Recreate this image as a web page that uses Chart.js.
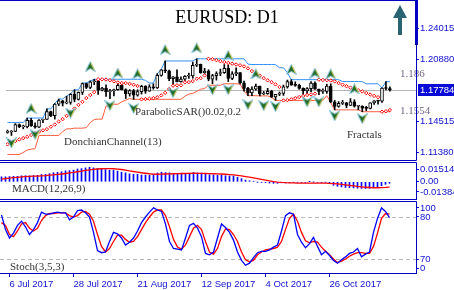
<!DOCTYPE html>
<html>
<head>
<meta charset="utf-8">
<title>EURUSD: D1</title>
<script src="https://cdn.jsdelivr.net/npm/chart.js@4.4.1/dist/chart.umd.min.js"></script>
<style>
  html, body { margin: 0; padding: 0; background: #fff; }
  #wrap { position: relative; width: 454px; height: 290px; overflow: hidden; background: #fff; }
  #wrap canvas { position: absolute; left: 0; }
</style>
</head>
<body>
<div id="wrap">
  <canvas id="mainChart" width="454" height="161" style="top:0px"></canvas>
  <canvas id="macdChart" width="454" height="38" style="top:162px"></canvas>
  <canvas id="stochChart" width="454" height="89" style="top:201px"></canvas>
</div>
<script>
// daily bars, 4 Jul 2017 .. 16 Nov 2017 (index 0..97)
const open = [1.1345,1.1348,1.1354,1.1423,1.1400,1.1400,1.1467,1.1412,1.1398,1.1470,
  1.1477,1.1556,1.1515,1.1632,1.1665,1.1641,1.1649,1.1731,1.1678,1.1751,
  1.1841,1.1801,1.1859,1.1869,1.1774,1.1794,1.1757,1.1769,1.1777,1.1822,
  1.1779,1.1734,1.1768,1.1722,1.1759,1.1813,1.1762,1.1806,1.1797,1.1923,
  1.1979,1.1970,1.1889,1.1910,1.1859,1.1886,1.1915,1.1918,1.2026,1.2036,
  1.1950,1.1966,1.1884,1.1921,1.1943,1.1951,1.1996,1.1892,1.1939,1.1951,
  1.1848,1.1792,1.1746,1.1784,1.1814,1.1734,1.1738,1.1761,1.1705,1.1732,
  1.1739,1.1807,1.1861,1.1823,1.1822,1.1792,1.1765,1.1789,1.1846,1.1784,
  1.1761,1.1761,1.1814,1.1654,1.1609,1.1639,1.1645,1.1619,1.1655,1.1610,
  1.1610,1.1590,1.1588,1.1645,1.1665,1.1662,1.1794,1.1790];
const high = [1.1368,1.1363,1.1433,1.1430,1.1418,1.1490,1.1488,1.1440,1.1475,1.1479,
  1.1583,1.1561,1.1637,1.1683,1.1670,1.1712,1.1738,1.1777,1.1755,1.1846,
  1.1845,1.1867,1.1884,1.1873,1.1803,1.1827,1.1782,1.1785,1.1845,1.1837,
  1.1787,1.1779,1.1781,1.1777,1.1823,1.1819,1.1829,1.1838,1.1941,1.1983,
  1.2070,1.1978,1.1911,1.1980,1.1908,1.1921,1.1946,1.2059,1.2092,1.2038,
  1.1995,1.1981,1.1935,1.1960,1.1987,1.2034,1.2033,1.1961,1.2001,1.1951,
  1.1866,1.1802,1.1808,1.1835,1.1815,1.1760,1.1792,1.1772,1.1730,1.1755,
  1.1825,1.1876,1.1880,1.1858,1.1834,1.1797,1.1800,1.1861,1.1859,1.1785,
  1.1787,1.1834,1.1838,1.1669,1.1657,1.1669,1.1650,1.1688,1.1676,1.1618,
  1.1615,1.1608,1.1646,1.1668,1.1670,1.1797,1.1860,1.1806];
const low = [1.1335,1.1313,1.1351,1.1392,1.1380,1.1390,1.1405,1.1387,1.1392,1.1443,
  1.1475,1.1504,1.1479,1.1616,1.1612,1.1634,1.1630,1.1655,1.1672,1.1729,
  1.1789,1.1788,1.1829,1.1729,1.1765,1.1710,1.1688,1.1716,1.1774,1.1776,
  1.1688,1.1712,1.1680,1.1712,1.1733,1.1741,1.1761,1.1783,1.1790,1.1915,
  1.1951,1.1869,1.1823,1.1857,1.1855,1.1865,1.1893,1.1895,1.2013,1.1945,
  1.1943,1.1868,1.1838,1.1875,1.1920,1.1944,1.1861,1.1880,1.1920,1.1836,
  1.1764,1.1717,1.1718,1.1773,1.1715,1.1728,1.1731,1.1699,1.1669,1.1718,
  1.1720,1.1794,1.1823,1.1812,1.1782,1.1730,1.1738,1.1757,1.1780,1.1727,
  1.1740,1.1741,1.1646,1.1573,1.1600,1.1627,1.1594,1.1616,1.1601,1.1574,
  1.1554,1.1565,1.1583,1.1628,1.1630,1.1649,1.1776,1.1762];
const close = [1.1348,1.1354,1.1423,1.1401,1.1400,1.1467,1.1412,1.1398,1.1470,1.1477,
  1.1556,1.1515,1.1632,1.1665,1.1641,1.1649,1.1731,1.1678,1.1751,1.1841,
  1.1801,1.1859,1.1869,1.1774,1.1794,1.1757,1.1769,1.1777,1.1822,1.1779,
  1.1734,1.1768,1.1722,1.1759,1.1813,1.1762,1.1806,1.1797,1.1923,1.1979,
  1.1970,1.1889,1.1910,1.1859,1.1886,1.1915,1.1918,1.2026,1.2036,1.1950,
  1.1966,1.1884,1.1921,1.1943,1.1951,1.1996,1.1892,1.1939,1.1951,1.1848,
  1.1792,1.1746,1.1784,1.1814,1.1734,1.1738,1.1761,1.1705,1.1732,1.1739,
  1.1807,1.1861,1.1823,1.1822,1.1792,1.1765,1.1789,1.1846,1.1784,1.1761,
  1.1761,1.1814,1.1654,1.1609,1.1639,1.1645,1.1619,1.1655,1.1610,1.1610,
  1.1590,1.1588,1.1645,1.1665,1.1662,1.1794,1.1790,1.17784];

// DonchianChannel(13) as drawn
const dcUpper = [1.1445,1.1445,1.1445,1.1445,1.1445,1.1490,1.1490,1.1490,1.1490,1.1490,
  1.1583,1.1583,1.1637,1.1683,1.1683,1.1712,1.1738,1.1777,1.1777,1.1846,
  1.1846,1.1867,1.1884,1.1884,1.1884,1.1884,1.1884,1.1884,1.1884,1.1884,
  1.1884,1.1884,1.1884,1.1884,1.1884,1.1873,1.1845,1.1845,1.1941,1.1983,
  1.2070,1.2070,1.2070,1.2070,1.2070,1.2070,1.2070,1.2070,1.2092,1.2092,
  1.2092,1.2092,1.2092,1.2092,1.2092,1.2092,1.2092,1.2092,1.2092,1.2092,
  1.2092,1.2038,1.2034,1.2034,1.2034,1.2034,1.2034,1.2034,1.2033,1.2001,
  1.2001,1.1951,1.1880,1.1880,1.1880,1.1880,1.1880,1.1880,1.1880,1.1880,
  1.1880,1.1880,1.1880,1.1880,1.1880,1.1861,1.1861,1.1861,1.1861,1.1861,
  1.1859,1.1838,1.1838,1.1838,1.1838,1.1797,1.1860,1.1860];
const dcLower = [1.1119,1.1119,1.1119,1.1119,1.1140,1.1165,1.1174,1.1179,1.1313,1.1313,
  1.1313,1.1313,1.1313,1.1313,1.1351,1.1380,1.1380,1.1387,1.1387,1.1387,
  1.1392,1.1443,1.1475,1.1479,1.1479,1.1612,1.1612,1.1630,1.1630,1.1655,
  1.1672,1.1688,1.1680,1.1680,1.1680,1.1680,1.1680,1.1680,1.1680,1.1680,
  1.1680,1.1680,1.1680,1.1680,1.1680,1.1712,1.1733,1.1741,1.1761,1.1783,
  1.1790,1.1823,1.1823,1.1823,1.1823,1.1838,1.1838,1.1838,1.1838,1.1836,
  1.1764,1.1717,1.1717,1.1717,1.1715,1.1715,1.1715,1.1699,1.1669,1.1669,
  1.1669,1.1669,1.1669,1.1669,1.1669,1.1669,1.1669,1.1669,1.1669,1.1669,
  1.1669,1.1718,1.1646,1.1573,1.1573,1.1573,1.1573,1.1573,1.1573,1.1573,
  1.1554,1.1554,1.1554,1.1554,1.1554,1.1554,1.1554,1.1554];

// ParabolicSAR(0.02,0.2)
const sar = [1.1223,1.1241,1.1257,1.1272,1.1286,1.1299,1.1318,1.1335,1.1351,1.1365,
  1.1377,1.1402,1.1424,1.1454,1.1479,1.1512,1.1548,1.1586,1.1624,1.1655,
  1.1693,1.1724,1.1753,1.1884,1.1884,1.1881,1.1874,1.1863,1.1852,1.1845,
  1.1845,1.1837,1.1828,1.1816,1.1680,1.1683,1.1686,1.1692,1.1701,1.1720,
  1.1746,1.1785,1.1819,1.1823,1.1823,1.1853,1.1855,1.1865,1.1890,1.1895,
  1.1923,1.2092,1.2088,1.2078,1.2068,1.2059,1.2050,1.2042,1.2034,1.2026,
  1.2015,1.1995,1.1967,1.1942,1.1920,1.1895,1.1873,1.1854,1.1832,1.1806,
  1.1669,1.1672,1.1680,1.1692,1.1703,1.1714,1.1724,1.1730,1.1738,1.1880,
  1.1877,1.1874,1.1871,1.1862,1.1845,1.1829,1.1814,1.1799,1.1785,1.1772,
  1.1760,1.1744,1.1729,1.1715,1.1702,1.1554,1.1559,1.1571];

// Fractals: bar index and level of the arrow
const upFracIdx = [6,21,28,33,40,48,56,63,72,78,82,88];
const upFracLvl = [1.1588,1.2013,1.1947,1.1938,1.2184,1.2203,1.2127,1.1938,1.1985,1.1947,1.1938,1.1786];
const dnFracIdx = [1,7,16,26,32,42,52,56,61,65,68,76,79,83,90];
const dnFracLvl = [1.1237,1.1323,1.1540,1.1616,1.1588,1.1748,1.1777,1.1777,1.1625,1.1616,1.1606,1.1654,1.1654,1.1512,1.1483];

// MACD(12,26,9)
const macdMain = [0.0040,0.0040,0.0042,0.0044,0.0044,0.0048,0.0049,0.0048,0.0050,0.0052,
  0.0058,0.0059,0.0066,0.0073,0.0077,0.0081,0.0088,0.0090,0.0094,0.0103,
  0.0106,0.0112,0.0117,0.0112,0.0109,0.0103,0.0098,0.0093,0.0092,0.0086,
  0.0077,0.0072,0.0064,0.0060,0.0060,0.0055,0.0055,0.0053,0.0061,0.0071,
  0.0077,0.0074,0.0072,0.0066,0.0063,0.0062,0.0061,0.0069,0.0075,0.0072,
  0.0070,0.0061,0.0057,0.0055,0.0053,0.0055,0.0049,0.0047,0.0046,0.0037,
  0.0026,0.0014,0.0008,0.0005,-0.0002,-0.0005,-0.0006,-0.0010,-0.0012,-0.0012,
  -0.0008,-0.0009,-0.0006,-0.0003,-0.0003,-0.0005,-0.0005,0.0001,-0.0001,-0.0004,
  -0.0006,-0.0002,-0.0015,-0.0028,-0.0036,-0.0041,-0.0045,-0.0046,-0.0049,-0.0051,
  -0.0053,-0.0054,-0.0052,-0.0048,-0.0045,-0.0032,-0.0020,-0.0012];
const macdSignal = [0.0022,0.0026,0.0030,0.0033,0.0036,0.0039,0.0041,0.0043,0.0045,0.0046,
  0.0048,0.0050,0.0053,0.0056,0.0059,0.0063,0.0067,0.0072,0.0076,0.0081,
  0.0086,0.0092,0.0096,0.0100,0.0103,0.0105,0.0106,0.0106,0.0105,0.0102,
  0.0099,0.0094,0.0088,0.0083,0.0078,0.0073,0.0069,0.0065,0.0062,0.0061,
  0.0062,0.0063,0.0064,0.0065,0.0066,0.0067,0.0067,0.0068,0.0069,0.0068,
  0.0068,0.0067,0.0066,0.0065,0.0064,0.0063,0.0061,0.0058,0.0055,0.0051,
  0.0047,0.0042,0.0037,0.0032,0.0026,0.0020,0.0014,0.0007,0.0002,-0.0002,
  -0.0005,-0.0007,-0.0008,-0.0009,-0.0010,-0.0010,-0.0010,-0.0010,-0.0010,-0.0010,
  -0.0011,-0.0011,-0.0012,-0.0014,-0.0017,-0.0021,-0.0025,-0.0029,-0.0033,-0.0037,
  -0.0040,-0.0044,-0.0046,-0.0048,-0.0048,-0.0047,-0.0045,-0.0042];

// Stoch(3,5,3)
const stochK = [83,62,50,57,68,74,66,55,62,72,
  87,84,84,86,87,86,86,76,80,89,
  90,86,80,58,32,29,30,45,58,56,
  50,40,44,50,60,72,80,87,93,90,
  88,70,45,35,34,33,50,68,71,64,
  52,28,26,30,50,70,65,58,47,30,
  18,11,14,22,29,31,31,33,37,40,
  60,82,86,84,55,44,36,42,51,38,
  26,31,25,18,14,19,23,28,30,35,
  23,27,30,58,78,93,88,79];
const stochD = [72,68,55,52,60,70,72,64,60,64,
  75,82,85,85,86,86,86,82,80,82,
  87,88,84,74,55,38,30,35,45,54,
  54,48,44,45,52,62,72,80,87,90,
  90,82,66,48,37,34,40,52,64,68,
  62,45,30,27,35,52,63,62,55,45,
  30,19,16,18,26,30,33,34,35,37,
  45,62,78,84,74,58,46,43,45,44,
  37,31,26,20,15,17,20,24,27,29,
  29,28,28,38,57,78,85,84];
const stochLevels = [80, 20];

// axis labels
const dateIdx = [2, 18, 34, 50, 66, 82];
const dateText = ['6 Jul 2017', '28 Jul 2017', '21 Aug 2017', '12 Sep 2017', '4 Oct 2017', '26 Oct 2017'];
const priceTickText = ['1.24015', '1.20880', '1.14515', '1.11380'];
const macdTickVals = [0.0103, 0, -0.0082];
const macdTickText = ['0.01514', '0.00', '-0.01384'];
const stochTickVals = [93, 80, 20, 7];
const stochTickText = ['100', '80', '70', '0'];

const AXIS = '#1010d0';
const FRAME = '#0000c0';
const X_MIN = -0.375, X_MAX = 103.625;

Chart.defaults.font.family = '"Liberation Sans", Arial, sans-serif';

const pts = arr => arr.map((v, i) => ({ x: i, y: v }));

function xAxis(show) {
  return {
    type: 'linear', min: X_MIN, max: X_MAX, offset: false, display: show, position: 'bottom',
    afterBuildTicks: s => { s.ticks = dateIdx.map(v => ({ value: v })); },
    afterFit: s => {
      s.height = show ? 17 : 0;
      s.paddingLeft = 0; s.paddingRight = 0;
    },
    ticks: { color: AXIS, font: { size: 9.5 }, align: 'start', padding: 2, autoSkip: false, maxRotation: 0,
      callback: (v, i) => dateText[i] },
    grid: { drawOnChartArea: false, drawTicks: true, tickLength: 4, color: AXIS, offset: false },
    border: { display: true, color: AXIS }
  };
}

function yAxis(min, max, vals, texts) {
  return {
    type: 'linear', position: 'right', min: min, max: max, bounds: 'data',
    afterBuildTicks: s => { s.ticks = vals.map(v => ({ value: v })); },
    afterFit: s => { s.width = 38; s.paddingTop = 0; s.paddingBottom = 0; },
    ticks: { color: AXIS, font: { size: 9.5 }, padding: 1, autoSkip: false, callback: (v, i) => texts[i] },
    grid: { drawOnChartArea: false, drawTicks: true, tickLength: 3, color: AXIS },
    border: { display: true, color: AXIS }
  };
}

// panel frame + indicator caption
function framePlugin(topY, bottomY, caption, capX, capY) {
  return {
    id: 'frame',
    afterDraw(chart) {
      const { ctx, chartArea: a } = chart;
      const rx = a.right + 0.5;
      ctx.save();
      ctx.strokeStyle = FRAME;
      ctx.lineWidth = 1;
      ctx.beginPath();
      ctx.moveTo(0, topY); ctx.lineTo(rx, topY);
      ctx.moveTo(0, bottomY); ctx.lineTo(rx, bottomY);
      ctx.moveTo(rx, topY); ctx.lineTo(rx, bottomY);
      ctx.stroke();
      if (caption) {
        ctx.font = '11px "Liberation Serif", serif';
        ctx.fillStyle = '#333';
        ctx.textBaseline = 'middle';
        ctx.fillText(caption, capX, capY);
      }
      ctx.restore();
    }
  };
}

// fractal arrow icons
function fractalIcon(up) {
  const c = document.createElement('canvas');
  c.width = 11; c.height = 11;
  const g = c.getContext('2d');
  if (!up) { g.translate(0, 11); g.scale(1, -1); }
  g.beginPath();
  g.moveTo(5.5, 0.5); g.lineTo(10.5, 10.5); g.lineTo(5.5, 7.5); g.lineTo(0.5, 10.5); g.closePath();
  g.fillStyle = '#1e6a26';
  g.fill();
  g.strokeStyle = '#88c4e4';
  g.lineWidth = 1;
  g.stroke();
  g.beginPath();
  g.moveTo(6, 2); g.lineTo(9.5, 9.2);
  g.strokeStyle = '#d8c63a';
  g.stroke();
  return c;
}
const upIcon = fractalIcon(true);
const dnIcon = fractalIcon(false);

const idx = close.map((_, i) => i);
const wickData = idx.map(i => ({ x: i, y: [low[i], high[i]] }));
const bodyData = idx.map(i => ({ x: i, y: [open[i], close[i]] }));
const bodyFill = idx.map(i => (close[i] >= open[i] ? '#ffffff' : '#000000'));
const last = close.length - 1;

const mainDecor = {
  id: 'mainDecor',
  beforeDatasetsDraw(chart) {
    const { ctx, chartArea: a, scales: { y } } = chart;
    const py = Math.round(y.getPixelForValue(close[last])) + 0.5;
    ctx.save();
    ctx.strokeStyle = '#b4b4b4';
    ctx.lineWidth = 1;
    ctx.beginPath(); ctx.moveTo(a.left, py); ctx.lineTo(a.right, py); ctx.stroke();
    ctx.restore();
  },
  afterDraw(chart) {
    const { ctx, chartArea: a, scales: { y } } = chart;
    ctx.save();
    // scroll marker on the price axis
    ctx.fillStyle = FRAME;
    ctx.fillRect(a.right - 1, 0, 3, 45);
    // current price box
    const py = Math.round(y.getPixelForValue(close[last]));
    ctx.fillStyle = '#0a0ad8';
    ctx.fillRect(a.right + 2, py - 6, 454 - a.right - 2, 12);
    ctx.fillStyle = '#fff';
    ctx.font = '9.5px "Liberation Sans", Arial';
    ctx.textBaseline = 'middle';
    ctx.fillText(close[last].toFixed(5), a.right + 4, py + 0.5);
    // title
    ctx.fillStyle = '#000';
    ctx.font = '18px "Liberation Serif", serif';
    ctx.textAlign = 'center';
    ctx.textBaseline = 'alphabetic';
    ctx.fillText('EURUSD: D1', 227, 23);
    // captions
    ctx.textAlign = 'left';
    ctx.textBaseline = 'middle';
    ctx.font = '11px "Liberation Serif", serif';
    ctx.fillStyle = '#333';
    ctx.fillText('ParabolicSAR()0.02,0.2', 135, 112);
    ctx.fillText('DonchianChannel(13)', 64, 142);
    ctx.fillText('Fractals', 347, 135);
    ctx.fillStyle = '#76688a';
    ctx.fillText(String(+dcUpper[last].toFixed(4)), 400, y.getPixelForValue(dcUpper[last]) - 8);
    ctx.fillText(String(+dcLower[last].toFixed(4)), 400, y.getPixelForValue(dcLower[last]) - 1);
    // trend arrow
    ctx.fillStyle = '#2a6372';
    ctx.fillRect(398, 16, 4, 19);
    ctx.beginPath();
    ctx.moveTo(400, 5); ctx.lineTo(407, 18); ctx.lineTo(393, 18); ctx.closePath();
    ctx.fill();
    ctx.restore();
  }
};

new Chart(document.getElementById('mainChart'), {
  type: 'bar',
  data: {
    datasets: [
      { type: 'line', data: pts(dcUpper), borderColor: '#2f8ff5', borderWidth: 1, pointRadius: 0, tension: 0, order: 6 },
      { type: 'line', data: pts(dcLower), borderColor: '#ff5a3a', borderWidth: 1, pointRadius: 0, tension: 0, order: 6 },
      { type: 'bar', data: wickData, backgroundColor: '#000', barThickness: 1, grouped: false, order: 5 },
      { type: 'bar', data: bodyData, backgroundColor: bodyFill, borderColor: '#000', borderWidth: 1,
        borderSkipped: false, barThickness: 3, minBarLength: 1, grouped: false, order: 4 },
      { type: 'line', data: pts(sar), showLine: false, pointStyle: 'rectRot', pointRadius: 1.7,
        pointBackgroundColor: '#fff', pointBorderColor: '#ff0000', pointBorderWidth: 1, order: 3 },
      { type: 'line', data: upFracIdx.map((v, k) => ({ x: v, y: upFracLvl[k] })), showLine: false,
        pointStyle: upIcon, pointRadius: 5, order: 2 },
      { type: 'line', data: dnFracIdx.map((v, k) => ({ x: v, y: dnFracLvl[k] })), showLine: false,
        pointStyle: dnIcon, pointRadius: 5, order: 2 }
    ]
  },
  options: {
    responsive: false, animation: false, events: [],
    layout: { padding: { top: 0, bottom: 1, left: 0, right: 0 } },
    plugins: { legend: { display: false }, tooltip: { enabled: false } },
    scales: {
      x: xAxis(false),
      y: yAxis(1.11143, 1.26286, priceTickText.map(Number), priceTickText)
    }
  },
  plugins: [mainDecor, framePlugin(0.5, 160.5)]
});

new Chart(document.getElementById('macdChart'), {
  type: 'bar',
  data: {
    datasets: [
      { type: 'line', data: pts(macdSignal), borderColor: '#ff0000', borderWidth: 1.3, pointRadius: 0, order: 1 },
      { type: 'bar', data: pts(macdMain), backgroundColor: '#0000ff', barThickness: 1, grouped: false, order: 2 }
    ]
  },
  options: {
    responsive: false, animation: false, events: [],
    layout: { padding: { top: 1, bottom: 1, left: 0, right: 0 } },
    plugins: { legend: { display: false }, tooltip: { enabled: false } },
    scales: {
      x: xAxis(false),
      y: yAxis(-0.01384, 0.01514, macdTickVals, macdTickText)
    }
  },
  plugins: [framePlugin(0.5, 37.5, 'MACD(12,26,9)', 12, 27)]
});

const stochLevelsPlugin = {
  id: 'stochLevels',
  beforeDatasetsDraw(chart) {
    const { ctx, chartArea: a, scales: { y } } = chart;
    ctx.save();
    ctx.strokeStyle = '#b8b8b8';
    ctx.lineWidth = 1;
    ctx.setLineDash([4, 3]);
    stochLevels.forEach(v => {
      const py = Math.round(y.getPixelForValue(v)) + 0.5;
      ctx.beginPath(); ctx.moveTo(a.left, py); ctx.lineTo(a.right, py); ctx.stroke();
    });
    ctx.restore();
  }
};

new Chart(document.getElementById('stochChart'), {
  type: 'line',
  data: {
    datasets: [
      { data: pts(stochK), borderColor: '#0000ff', borderWidth: 1.3, pointRadius: 0, tension: 0 },
      { data: pts(stochD), borderColor: '#ff0000', borderWidth: 1.3, pointRadius: 0, tension: 0 }
    ]
  },
  options: {
    responsive: false, animation: false, events: [],
    layout: { padding: { top: 2, bottom: 0, left: 0, right: 0 } },
    plugins: { legend: { display: false }, tooltip: { enabled: false } },
    scales: {
      x: xAxis(true),
      y: yAxis(0, 100, stochTickVals, stochTickText)
    }
  },
  plugins: [stochLevelsPlugin, framePlugin(0.5, 72.5, 'Stoch(3,5,3)', 10, 66)]
});
</script>
</body>
</html>
